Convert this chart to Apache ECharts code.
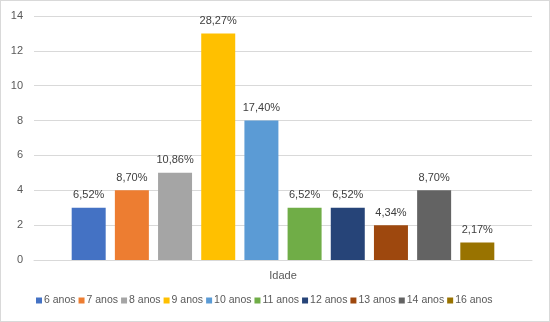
<!DOCTYPE html>
<html>
<head>
<meta charset="utf-8">
<script src="https://cdn.jsdelivr.net/npm/echarts@6/dist/echarts.min.js"></script>
<style>
  html, body { margin: 0; padding: 0; background: #fff; }
  #chart { width: 548px; height: 320px; border: 1px solid #d9d9d9; }
</style>
</head>
<body>
<div id="chart"></div>
<script>
// idades (uma série por idade)
const ages = ['6 anos', '7 anos', '8 anos', '9 anos', '10 anos', '11 anos', '12 anos', '13 anos', '14 anos', '16 anos']
const counts = [3, 4, 5, 13, 8, 3, 3, 2, 4, 1]
const percents = ['6,52%', '8,70%', '10,86%', '28,27%', '17,40%', '6,52%', '6,52%', '4,34%', '8,70%', '2,17%']
const categories = ['Idade']
const yTicks = [0, 2, 4, 6, 8, 10, 12, 14]

const colors = [
  '#4472C4', '#ED7D31', '#A5A5A5', '#FFC000', '#5B9BD5',
  '#70AD47', '#264478', '#9E480E', '#636363', '#997300',
]

const font = 'Liberation Sans, Arial, sans-serif'
const myChart = echarts.init(document.getElementById('chart'))

const series = ages.map((name, i) => ({
  name,
  type: 'bar',
  data: [counts[i]],
  barWidth: 34,
  barGap: '27%',
  itemStyle: {color: colors[i]},
  label: {
    show: true,
    position: 'top',
    distance: 7,
    color: '#404040',
    fontSize: 11,
    fontFamily: font,
    formatter: () => percents[i],
  },
}))

myChart.setOption({
  animation: false,
  color: colors,
  grid: {left: 33, right: 17, top: 15, bottom: 61, containLabel: false},
  legend: {
    bottom: 10,
    left: 30,
    itemWidth: 6,
    itemHeight: 6,
    itemGap: 3,
    icon: 'rect',
    textStyle: {color: '#595959', fontSize: 10.5, fontFamily: font, padding: [0, 0, 0, -3]},
    data: ages,
  },
  xAxis: {
    type: 'category',
    data: categories,
    axisLine: {lineStyle: {color: '#d9d9d9'}},
    axisTick: {show: false},
    axisLabel: {color: '#595959', fontSize: 11, fontFamily: font, margin: 10},
  },
  yAxis: {
    type: 'value',
    min: yTicks[0],
    max: yTicks[yTicks.length - 1],
    interval: 2,
    axisLine: {show: false},
    axisTick: {show: false},
    axisLabel: {color: '#595959', fontSize: 11, fontFamily: font, margin: 11},
    splitLine: {lineStyle: {color: '#d9d9d9'}},
  },
  series,
})
</script>
</body>
</html>
